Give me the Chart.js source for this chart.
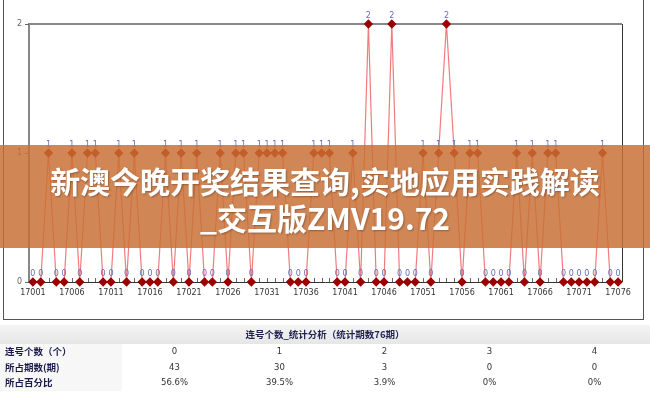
<!DOCTYPE html>
<html>
<head>
<meta charset="utf-8">
<script src="https://cdn.jsdelivr.net/npm/chart.js@4.4.0/dist/chart.umd.min.js"></script>
<style>
  body { margin: 0; background: #fff; width: 650px; height: 397px; overflow: hidden; position: relative; }
  #wrap { position: absolute; left: 0; top: 0; width: 650px; height: 320px; }
  #frame { position: absolute; left: 3px; top: -2px; width: 639px; height: 320px; border: 1px solid #555; pointer-events: none; }
  #banner {
    position: absolute; left: 0; top: 145px; width: 650px; height: 103px;
    background: rgba(200, 112, 52, 0.84);
    color: #fff; font-family: "Noto Sans CJK SC", sans-serif; font-weight: 700;
    font-size: 30px; line-height: 37px; text-align: center;
    padding-top: 17px; box-sizing: border-box;
    text-shadow: 1px 1px 2px rgba(0,0,0,0.3);
  }
  #tbl { position: absolute; left: 0; top: 325px; width: 650px; font-family: "Noto Sans CJK SC", sans-serif; }
  .hd { height: 19px; line-height: 19px; text-align: center; font-size: 9.5px; font-weight: 700; color: #222255;
        background: linear-gradient(#f4f4f4, #e6e6e6); }
  .row { display: flex; height: 15.5px; line-height: 15.5px; }
  .lab { width: 122px; padding-left: 5px; box-sizing: border-box; font-size: 9.5px; font-weight: 700; color: #1a1a4a; background: #f7f7f7; }
  .val { width: 105px; text-align: center; font-size: 8.5px; color: #333; font-family: "DejaVu Sans", sans-serif; }
</style>
</head>
<body>
<div id="wrap"><canvas id="lineChart" width="650" height="320"></canvas></div>
<div id="frame"></div>
<div id="banner">新澳今晚开奖结果查询,实地应用实践解读<br>_交互版ZMV19.72</div>
<div id="tbl"></div>
<script>
const issues = [
  '17001','17002','17003','17004','17005','17006','17007','17008','17009','17010',
  '17011','17012','17013','17014','17015','17016','17017','17018','17019','17020',
  '17021','17022','17023','17024','17025','17026','17027','17028','17029','17030',
  '17031','17032','17033','17034','17035','17036','17037','17038','17039','17040',
  '17041','17042','17043','17044','17045','17046','17047','17048','17049','17050',
  '17051','17052','17053','17054','17055','17056','17057','17058','17059','17060',
  '17061','17062','17063','17064','17065','17066','17067','17068','17069','17070',
  '17071','17072','17073','17074','17075','17076'
];
const consecutive = [
  0,0,1,0,0,1,0,1,1,0,
  0,1,0,1,0,0,0,1,0,1,
  0,1,0,0,1,0,1,1,0,1,
  1,1,1,0,0,0,1,1,1,0,
  0,1,0,2,0,0,2,0,0,0,
  1,0,1,2,1,0,1,1,0,0,
  0,0,1,0,1,0,1,1,0,0,
  0,0,0,1,0,0
];
const yTicks = [0, 1, 2];

const tableTitle = '连号个数_统计分析（统计期数76期）';
const rowNames = ['连号个数（个）', '所占期数(期)', '所占百分比'];
const countCol = ['0', '1', '2', '3', '4'];
const periodCol = ['43', '30', '3', '0', '0'];
const percentCol = ['56.6%', '39.5%', '3.9%', '0%', '0%'];

// table
const tbl = document.getElementById('tbl');
let html = '<div class="hd">' + tableTitle + '</div>';
[countCol, periodCol, percentCol].forEach((col, r) => {
  html += '<div class="row"><div class="lab">' + rowNames[r] + '</div>';
  col.forEach(v => { html += '<div class="val">' + v + '</div>'; });
  html += '</div>';
});
tbl.innerHTML = html;

// borders + small ticks
const framePlugin = {
  id: 'framePlugin',
  beforeDatasetsDraw(chart) {
    const { ctx, chartArea: a, scales } = chart;
    ctx.save();
    // top and left gray
    ctx.strokeStyle = '#888';
    ctx.lineWidth = 2;
    ctx.beginPath();
    ctx.moveTo(a.left, a.bottom);
    ctx.lineTo(a.left, a.top);
    ctx.lineTo(a.right, a.top);
    ctx.stroke();
    // right and bottom dark
    ctx.strokeStyle = '#333';
    ctx.lineWidth = 1;
    ctx.beginPath();
    ctx.moveTo(a.right + 0.5, a.top);
    ctx.lineTo(a.right + 0.5, a.bottom);
    ctx.moveTo(a.left, a.bottom + 0.5);
    ctx.lineTo(a.right, a.bottom + 0.5);
    ctx.stroke();
    // x ticks pointing up
    ctx.beginPath();
    issues.forEach((_, i) => {
      const x = Math.round(scales.x.getPixelForValue(i)) + 0.5;
      ctx.moveTo(x, a.bottom);
      ctx.lineTo(x, a.bottom - 4);
    });
    // y ticks
    yTicks.forEach(v => {
      const y = Math.round(scales.y.getPixelForValue(v)) + 0.5;
      ctx.moveTo(a.left - 4, y);
      ctx.lineTo(a.left, y);
    });
    ctx.strokeStyle = '#666';
    ctx.stroke();
    ctx.restore();
  },
  afterDatasetsDraw(chart) {
    const { ctx } = chart;
    const meta = chart.getDatasetMeta(0);
    ctx.save();
    ctx.font = '8px "DejaVu Sans", sans-serif';
    ctx.fillStyle = '#6a6ab8';
    ctx.textAlign = 'center';
    ctx.textBaseline = 'bottom';
    meta.data.forEach((pt, i) => {
      ctx.fillText(String(consecutive[i]), pt.x, pt.y - 4);
    });
    ctx.restore();
  }
};

new Chart(document.getElementById('lineChart').getContext('2d'), {
  type: 'line',
  data: {
    labels: issues,
    datasets: [{
      data: consecutive,
      borderColor: 'rgba(235, 80, 80, 0.75)',
      borderWidth: 1.2,
      tension: 0,
      pointStyle: 'rectRot',
      pointRadius: 3.8,
      pointBackgroundColor: '#9a0000',
      pointBorderColor: '#9a0000',
      clip: false
    }]
  },
  options: {
    responsive: false,
    animation: false,
    layout: { padding: { left: 0, right: 28, top: 24, bottom: 0 } },
    scales: {
      x: {
        type: 'category',
        offset: true,
        grid: { display: false, drawTicks: false },
        border: { display: false },
        ticks: {
          autoSkip: false,
          maxRotation: 0,
          padding: 6,
          color: '#333',
          font: { size: 8, family: 'DejaVu Sans' },
          callback: (v, i) => (i % 5 === 0 ? issues[i] : '')
        },
        afterFit: s => { s.height = 38; }
      },
      y: {
        min: 0,
        max: 2,
        grid: { display: false, drawTicks: false },
        border: { display: false },
        ticks: {
          stepSize: 1,
          padding: 7,
          color: '#666',
          font: { size: 8, family: 'DejaVu Sans' }
        },
        afterFit: s => { s.width = 29; }
      }
    },
    plugins: {
      legend: { display: false },
      tooltip: { enabled: false }
    }
  },
  plugins: [framePlugin]
});
</script>
</body>
</html>
